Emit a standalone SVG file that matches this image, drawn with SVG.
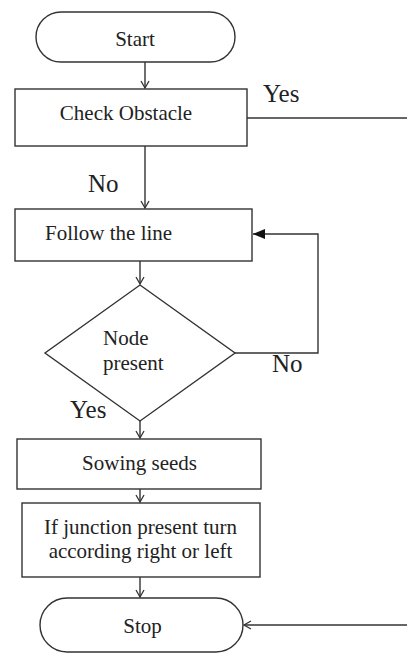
<svg xmlns="http://www.w3.org/2000/svg" width="407" height="653" viewBox="0 0 407 653" font-family="'Liberation Serif', 'DejaVu Serif', serif">
<style>
.s{fill:#fff;stroke:#333;stroke-width:1.4}
.t{font-size:21px;fill:#222;text-anchor:middle}
.a{text-anchor:start}
.l{font-size:25px;fill:#222}
.c{fill:none;stroke:#333;stroke-width:1.4}
</style>
<defs>
<marker id="o" markerWidth="10" markerHeight="10" refX="8" refY="5" orient="auto" markerUnits="userSpaceOnUse"><path d="M1,1 L8,5 L1,9" fill="none" stroke="#333" stroke-width="1.3"/></marker>
<marker id="f" markerWidth="14" markerHeight="12" refX="12" refY="6" orient="auto" markerUnits="userSpaceOnUse"><path d="M0,1 L12,6 L0,11 Z" fill="#111"/></marker>
</defs>
<g id="start"><rect class="s" x="36" y="12" width="199" height="50" rx="25"/><text class="t" x="135" y="46">Start</text></g>
<g id="check"><rect class="s" x="15" y="89" width="232" height="57"/><text class="t" x="126" y="120">Check Obstacle</text></g>
<g id="follow"><rect class="s" x="15" y="209" width="237" height="52"/><text class="t a" x="45" y="240">Follow the line</text></g>
<g id="node"><polygon class="s" points="140,285 235,353 140,421 45,353"/><text class="t a" x="103" y="345">Node</text><text class="t a" x="103" y="370">present</text></g>
<g id="sowing"><rect class="s" x="17" y="439" width="244" height="50"/><text class="t" x="139.5" y="470">Sowing seeds</text></g>
<g id="junction"><rect class="s" x="22" y="503" width="238" height="74"/><text class="t" x="140.5" y="534">If junction present turn</text><text class="t" x="140.5" y="558">according right or left</text></g>
<g id="stop"><rect class="s" x="40" y="598" width="203" height="54" rx="27"/><text class="t" x="142.5" y="633">Stop</text></g>
<g id="connectors">
<line class="c" x1="145" y1="62" x2="145" y2="88" marker-end="url(#o)"/>
<line class="c" x1="247" y1="118" x2="407" y2="118"/>
<line class="c" x1="145" y1="146" x2="145" y2="208" marker-end="url(#o)"/>
<line class="c" x1="140" y1="261" x2="140" y2="284" marker-end="url(#o)"/>
<polyline class="c" points="235,353 318,353 318,234 253,234" marker-end="url(#f)"/>
<line class="c" x1="140" y1="421" x2="140" y2="438" marker-end="url(#o)"/>
<line class="c" x1="140" y1="489" x2="140" y2="502" marker-end="url(#o)"/>
<line class="c" x1="140" y1="577" x2="140" y2="597" marker-end="url(#o)"/>
<line class="c" x1="407" y1="625" x2="244" y2="625" marker-end="url(#o)"/>
<text class="l" x="263" y="102">Yes</text>
<text class="l" x="88" y="192">No</text>
<text class="l" x="272" y="372">No</text>
<text class="l" x="70" y="418">Yes</text>
</g>
</svg>
